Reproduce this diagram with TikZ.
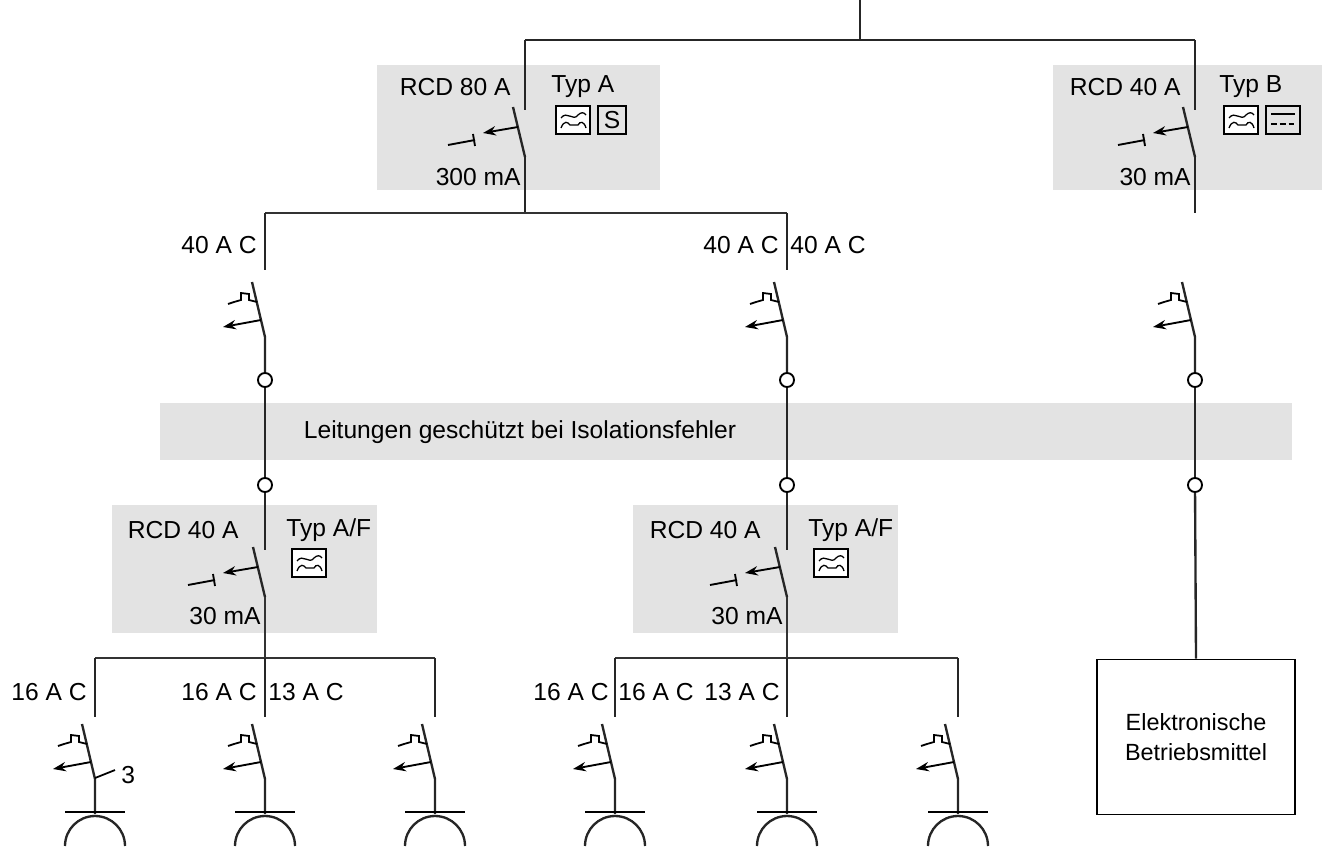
\documentclass[tikz,border=0pt]{standalone}
\usepackage{fontspec}
\setmainfont{Liberation Sans}
\usetikzlibrary{arrows.meta}
\definecolor{bandgrey}{gray}{0.89}
\tikzstyle{wire} = [line width=2pt,black!85]
\tikzstyle{bus} = [line width=1.4pt,black!80]
\tikzset{
  mcb/.pic={
    \draw[wire] (-13,0) -- (0,55) -- (0,90);
    \draw[line width=1.5pt] (-8,20) -- (-16,18) -- (-16,12) -- (-24,11) -- (-24,18) -- (-31,20) -- (-37,22);
    \draw[line width=1.6pt,-{Stealth[length=11pt,width=8pt]}] (-4,38) -- (-42,45);
  },
  rcd/.pic={
    \draw[wire] (-12,-3) -- (0,47);
    \draw[line width=1.6pt,-{Stealth[length=11pt,width=8pt]}] (-7,17) -- (-42,23);
    \draw[line width=1.6pt] (-50,30) -- (-77,35);
    \draw[line width=1.6pt] (-52,24) -- (-50,36);
  },
  socket/.pic={
    \draw[line width=1.4pt] (-30,0) -- (30,0);
    \draw[wire] (-30,34) arc[start angle=180,end angle=360,radius=30];
  },
  acbox/.pic={
    \draw[line width=1pt,fill=white] (0,0) rectangle (34,28);
    \draw[line width=1.1pt] (5,12) .. controls (11,4) and (17,16) .. (22,9) .. controls (25,6) and (28,6) .. (30,9);
    \draw[line width=1.1pt] (5,22) .. controls (8,14) and (12,16) .. (14,19) -- (22,19) .. controls (24,15) and (28,15) .. (30,22);
  }
}
\begin{document}
\begin{tikzpicture}[x=0.03cm,y=-0.03cm,
    greybox/.style={fill=bandgrey,draw=none},
    lbl/.style={font=\fontsize{21}{24}\selectfont,inner sep=1pt},
    ring/.style={draw,line width=1.6pt,circle,fill=white,minimum size=12,inner sep=0pt}]
  \useasboundingbox (0,0) rectangle (1337,848);
  % grey fields
  \fill[greybox] (377,65) rectangle (660,190);
  \fill[greybox] (1053,65) rectangle (1322,190);
  \fill[greybox] (160,403) rectangle (1292,460);
  \fill[greybox] (112,505) rectangle (377,633);
  \fill[greybox] (633,505) rectangle (898,633);
  \node[lbl] (band) at (520,432) {Leitungen geschützt bei Isolationsfehler};
  % feed
  \coordinate (feed) at (860,0);
  \coordinate (feedj) at (860,40);
  \coordinate (t1) at (525,40);
  \coordinate (t2) at (1195,40);
  \draw[wire] (feed) -- (feedj);
  \draw[wire] (t1) -- (t2);
  % RCD 80 A
  \coordinate (r1a) at (525,110);
  \coordinate (r1b) at (525,157);
  \coordinate (b1) at (525,213);
  \draw[wire] (t1) -- (r1a);
  \pic at (r1a) {rcd};
  \draw[wire] (r1b) -- (b1);
  \node[lbl,anchor=east] (r1lbl) at (512,87) {RCD 80 A};
  \node[lbl,anchor=east] (r1ma) at (522,177) {300 mA};
  \node[lbl,anchor=west] (r1typ) at (550,87) {Typ A};
  \pic at (556,106) {acbox};
  \node[draw,line width=1pt,minimum width=28*0.03cm,minimum height=28*0.03cm,inner sep=0pt,font=\fontsize{21}{24}\selectfont] (r1s) at (612,120) {S};
  % RCD 40 A typ B
  \coordinate (r2a) at (1195,110);
  \coordinate (r2b) at (1195,157);
  \coordinate (r2c) at (1195,213);
  \draw[wire] (t2) -- (r2a);
  \pic at (r2a) {rcd};
  \draw[wire] (r2b) -- (r2c);
  \node[lbl,anchor=east] (r2lbl) at (1182,87) {RCD 40 A};
  \node[lbl,anchor=east] (r2ma) at (1192,177) {30 mA};
  \node[lbl,anchor=west] (r2typ) at (1218,87) {Typ B};
  \pic at (1224,106) {acbox};
  \draw[line width=1pt] (1266,106) rectangle (1300,134);
  \draw[line width=1.4pt] (1271,114) -- (1295,114);
  \draw[line width=1.4pt,dash pattern=on 5pt off 2.5pt] (1271,124) -- (1296,124);
  % first level bus
  \coordinate (bL) at (265,213);
  \coordinate (bR) at (787,213);
  \draw[bus] (bL) -- (bR);
  \foreach \x/\n in {265/A,787/B,1195/C}{
    \coordinate (m\n) at (\x,270);
    \coordinate (mb\n) at (\x,282);
    \node[ring] (o\n) at (\x,380) {};
    \node[ring] (u\n) at (\x,485) {};
  }
  \draw[wire] (bL) -- (mA);
  \draw[wire] (bR) -- (mB);
  \foreach \n in {A,B,C}{
    \pic at (mb\n) {mcb};
    \draw[wire] (o\n) -- (u\n);
  }
  \node[lbl,anchor=east] (mAl) at (258,245) {40 A C};
  \node[lbl,anchor=east] (mBl) at (780,245) {40 A C};
  \node[lbl,anchor=west] (mBr) at (789,245) {40 A C};
  % lower RCDs
  \foreach \x/\n in {265/A,787/B}{
    \coordinate (s\n a) at (\x,550);
    \coordinate (s\n b) at (\x,597);
    \draw[wire] (u\n) -- (s\n a);
    \pic at (s\n a) {rcd};
    \node[lbl,anchor=east] (s\n lbl) at (\x-25,530) {RCD 40 A};
    \node[lbl,anchor=east] (s\n ma) at (\x-3,616) {30 mA};
    \node[lbl,anchor=west] (s\n typ) at (\x+20,530) {Typ A/F};
    \pic at (\x+27,549) {acbox};
  }
  \coordinate (dA) at (265,717);
  \coordinate (dB) at (787,717);
  \draw[bus] (sAb) -- (dA);
  \draw[bus] (sBb) -- (dB);
  % Betriebsmittel
  \node[draw,line width=1.6pt,minimum width=198*0.03cm,minimum height=155*0.03cm,align=center,
        font=\fontsize{20}{25}\selectfont] (betr) at (1196,737) {Elektronische\\Betriebsmittel};
  \draw[wire] (uC) -- (betr.north);
  % final circuits
  \draw[bus] (95,658) -- (435,658);
  \draw[bus] (615,658) -- (958,658);
  \foreach \x in {95,265,435,615,787,958}{
    \draw[wire] (\x,658) -- (\x,717);
    \pic at (\x,724) {mcb};
    \pic at (\x,812) {socket};
  }
  \draw[line width=1.5pt] (95,778) -- (115,770);
  \node[lbl,anchor=west] (three) at (120,775) {3};
  \node[lbl,anchor=east] (c1) at (88,692) {16 A C};
  \node[lbl,anchor=east] (c2) at (258,692) {16 A C};
  \node[lbl,anchor=west] (c3) at (267,692) {13 A C};
  \node[lbl,anchor=east] (c4) at (610,692) {16 A C};
  \node[lbl,anchor=west] (c5) at (617,692) {16 A C};
  \node[lbl,anchor=east] (c6) at (781,692) {13 A C};
\end{tikzpicture}
\end{document}
